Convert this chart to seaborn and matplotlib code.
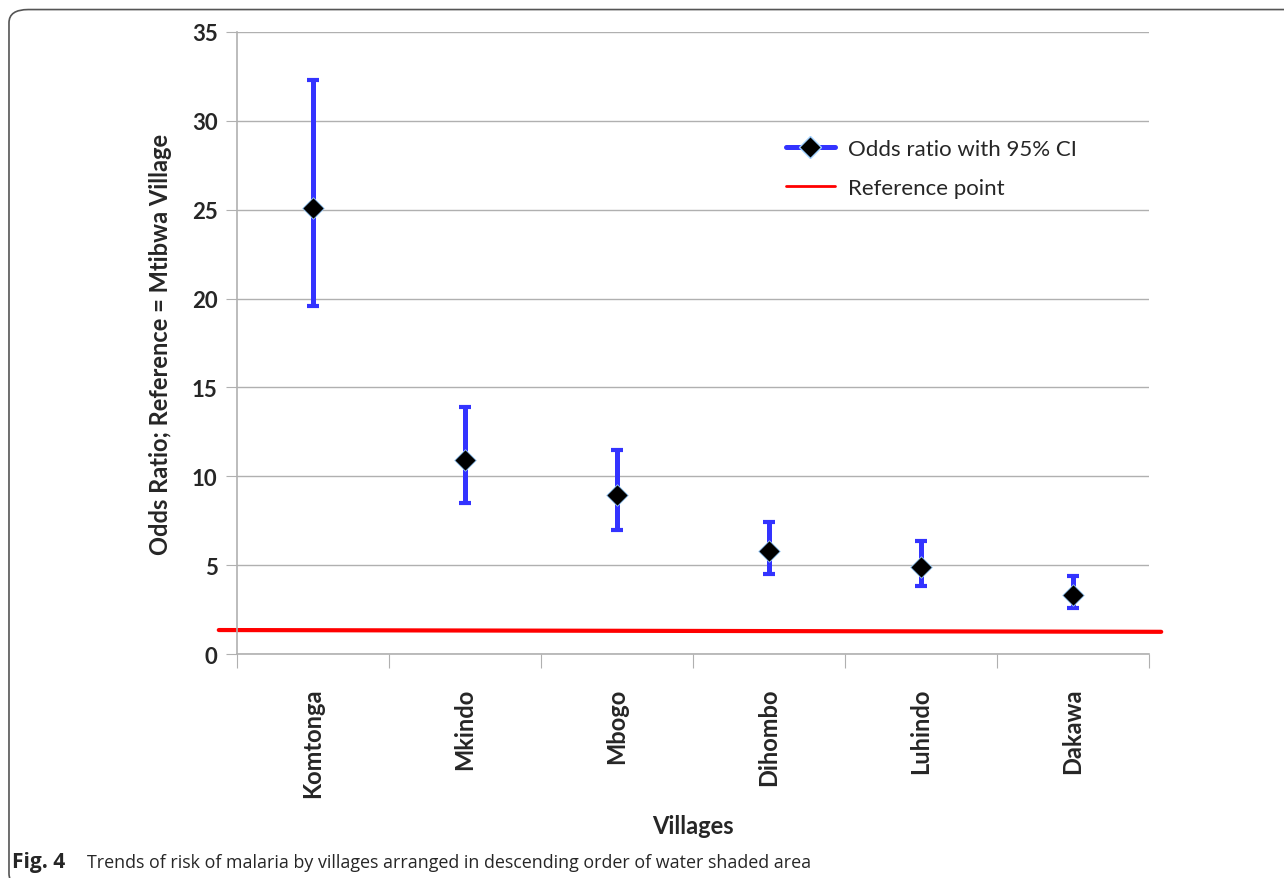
import numpy as np
import pandas as pd
import matplotlib
matplotlib.use("Agg")
import matplotlib.pyplot as plt
from matplotlib.patches import FancyBboxPatch
from matplotlib.lines import Line2D
import seaborn as sns

# Data
villages = ["Komtonga", "Mkindo", "Mbogo", "Dihombo", "Luhindo", "Dakawa"]
odds_ratio = [25.1, 10.9, 8.95, 5.8, 4.9, 3.3]
ci_lower = [19.6, 8.5, 7.0, 4.5, 3.85, 2.6]
ci_upper = [32.3, 13.9, 11.5, 7.45, 6.35, 4.4]
ref_x = [-0.62, 5.58]
ref_y = [1.35, 1.25]

df = pd.DataFrame({"village": villages, "or": odds_ratio,
                   "lo": ci_lower, "hi": ci_upper})

sns.set_style("white")
plt.rcParams['font.family'] = ['Lato', 'DejaVu Sans']

fig = plt.figure(figsize=(12.84, 8.79), dpi=100)
ax = fig.add_axes([0.1846, 0.2548, 0.7103, 0.7077])

xpos = np.arange(len(df))
err = [df["or"] - df["lo"], df["hi"] - df["or"]]
ax.errorbar(xpos, df["or"], yerr=err, fmt="none", ecolor="#3333ff",
            elinewidth=3.6, capsize=4, capthick=3, zorder=3)
sns.scatterplot(x=xpos, y=df["or"], marker="D", s=120, color="black",
                edgecolor="#9fd0ff", linewidth=0.6, zorder=4, ax=ax)
ax.plot(ref_x, ref_y, color="#ff0000", lw=3, zorder=2, clip_on=False)

ax.set_xlim(-0.5, 5.5)
ax.set_ylim(0, 35)
ax.set_yticks(range(0, 36, 5))
ax.set_xticks(np.arange(-0.5, 6, 1))
ax.set_xticklabels([])
ax.set_xticks(xpos, minor=True)
ax.set_xticklabels(villages, minor=True, rotation=90, fontsize=17,
                   fontweight="bold", va="top")
ax.tick_params(axis="x", which="minor", length=0, pad=24)
ax.tick_params(axis="x", which="major", length=10, color="#b0b0b0",
               direction="out", bottom=True)
ax.tick_params(axis="y", length=8, color="#b0b0b0", direction="out",
               left=True, labelsize=16, pad=6)
for lab in ax.get_yticklabels():
    lab.set_fontweight("bold")

ax.grid(axis="y", color="#b0b0b0", lw=1)
for s in ["top", "right"]:
    ax.spines[s].set_visible(False)
for s in ["left", "bottom"]:
    ax.spines[s].set_color("#b0b0b0")
    ax.spines[s].set_linewidth(1.2)

ax.set_ylabel("Odds Ratio; Reference = Mtibwa Village", fontsize=17,
              fontweight="bold", labelpad=14)
ax.set_xlabel("Villages", fontsize=17, fontweight="bold", labelpad=12)

handles = [
    Line2D([0], [0], color="#3333ff", lw=3.6, marker="D", markersize=11,
           markerfacecolor="black", markeredgecolor="#9fd0ff"),
    Line2D([0], [0], color="#ff0000", lw=2),
]
ax.legend(handles, ["Odds ratio with 95% CI", "Reference point"],
          loc="upper left", bbox_to_anchor=(0.58, 0.86), frameon=False,
          fontsize=16, handlelength=2.2, handletextpad=0.6, labelspacing=0.85)

# frame and caption
frame = FancyBboxPatch((0.007, -0.01), 1.2, 0.998, transform=fig.transFigure,
                       boxstyle="round,pad=0,rounding_size=0.015",
                       fill=False, ec="#555555", lw=1.2)
fig.patches.append(frame)
fig.text(0.009, 0.012, "Fig. 4", fontsize=15, fontweight="bold",
         family=["Open Sans", "DejaVu Sans"])
fig.text(0.068, 0.012,
         "Trends of risk of malaria by villages arranged in descending order of water shaded area",
         fontsize=12.9, family=["Open Sans", "DejaVu Sans"])

fig.savefig("out.png", dpi=100)
